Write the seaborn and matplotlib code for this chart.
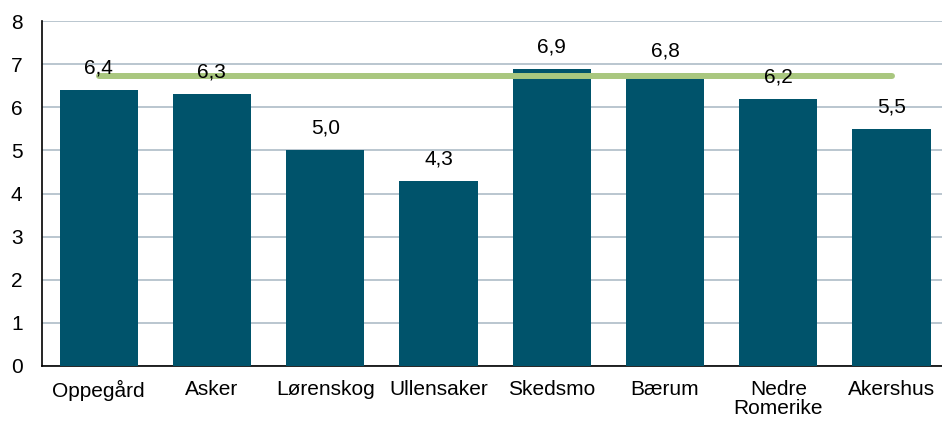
import numpy as np
import pandas as pd
import seaborn as sns
import matplotlib.pyplot as plt

# data
kommuner = ["Oppegård", "Asker", "Lørenskog", "Ullensaker", "Skedsmo", "Bærum", "Nedre\nRomerike", "Akershus"]
verdier = [6.4, 6.3, 5.0, 4.3, 6.9, 6.8, 6.2, 5.5]
snitt = 6.72
y_ticks = [0, 1, 2, 3, 4, 5, 6, 7, 8]

df = pd.DataFrame({"kommune": kommuner, "verdi": verdier})

sns.set_theme(style="white")
plt.rcParams['font.family'] = ['Liberation Sans', 'DejaVu Sans']

fig = plt.figure(figsize=(9.42, 4.23), dpi=100)
# plot area runs a little past the right edge of the image, as in the original
ax = fig.add_axes([0.0446, 0.135, 0.962, 0.815])

sns.barplot(data=df, x="kommune", y="verdi", color="#00536B", saturation=1,
            width=0.69, linewidth=0, ax=ax, zorder=3)

# reference line, bar centre to bar centre
x_pos = np.arange(len(kommuner))
ax.plot([x_pos[0], x_pos[-1]], [snitt, snitt], color="#A9C77F", lw=4.3,
        solid_capstyle="round", zorder=4)

for x, v in zip(x_pos, verdier):
    ax.annotate(f"{v:.1f}".replace(".", ","), (x, v), xytext=(0, 9),
                textcoords="offset points", ha="center", va="bottom",
                fontsize=15, color="black", zorder=5)

ax.set_ylim(0, 8)
ax.set_xlim(-0.5, len(kommuner) - 0.5)
ax.set_yticks(y_ticks)
ax.yaxis.grid(True, color="#B4C1CC", lw=1.3, zorder=0)
ax.set_axisbelow(True)
ax.set_xlabel("")
ax.set_ylabel("")
ax.tick_params(axis="both", length=0, labelsize=15, colors="black")
ax.tick_params(axis="y", pad=14)
ax.tick_params(axis="x", pad=10)
for lbl in ax.get_xticklabels():
    lbl.set_linespacing(1.0)

for s in ["top", "right"]:
    ax.spines[s].set_visible(False)
for s in ["left", "bottom"]:
    ax.spines[s].set_color("black")
    ax.spines[s].set_linewidth(1.2)

fig.savefig("out.png", dpi=100)
